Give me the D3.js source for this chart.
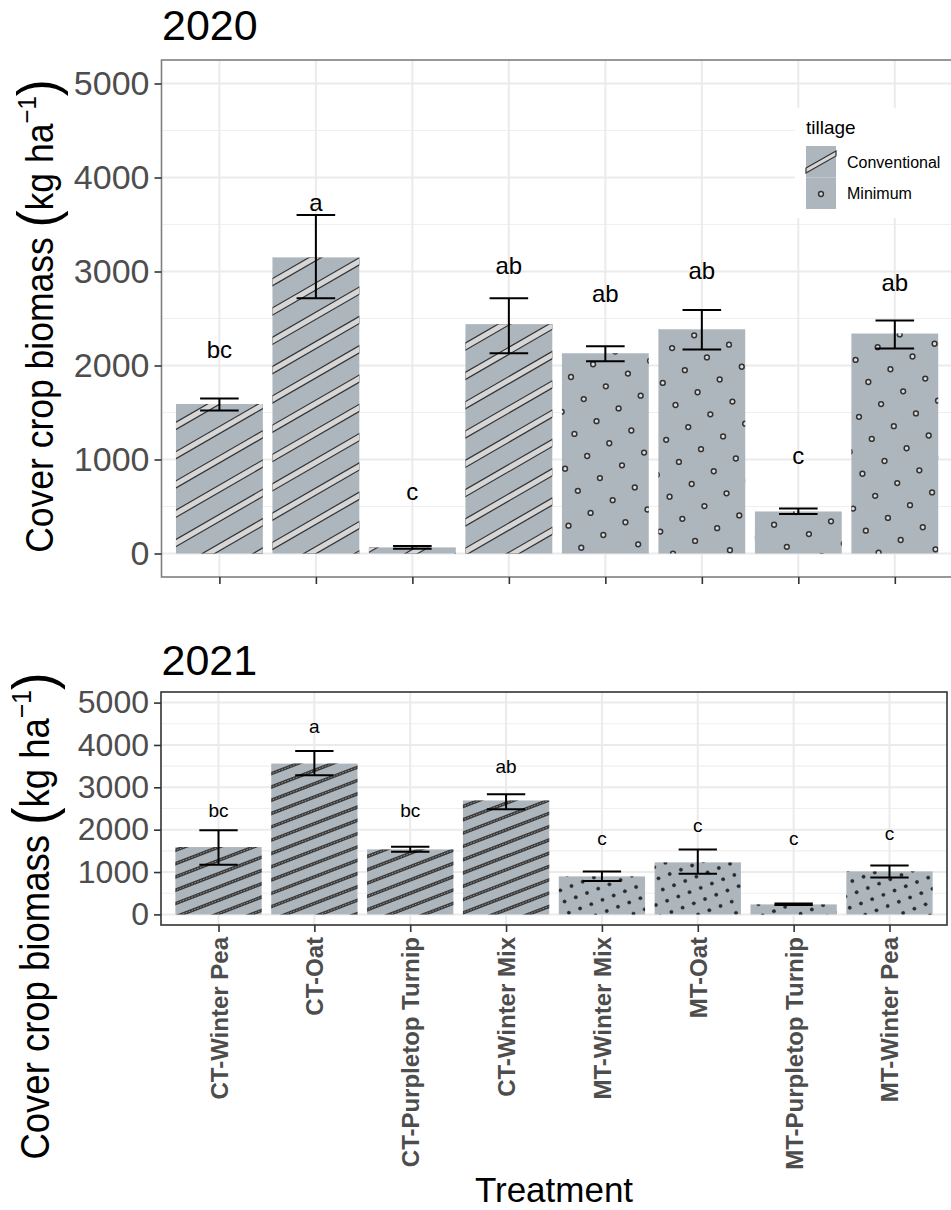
<!DOCTYPE html>
<html><head><meta charset="utf-8">
<script src="https://cdn.jsdelivr.net/npm/d3@7"></script>
<style>
body{margin:0;background:#fff}
svg{display:block}
text{font-family:"Liberation Sans",Arial,Helvetica,sans-serif}
</style>
</head><body>
<svg id="chart" width="951" height="1210"></svg>
<script>
// ---------- data ----------
const categories = ["CT-Winter Pea","CT-Oat","CT-Purpletop Turnip","CT-Winter Mix",
                    "MT-Winter Mix","MT-Oat","MT-Purpletop Turnip","MT-Winter Pea"];
const tillage = ["Conventional","Conventional","Conventional","Conventional",
                 "Minimum","Minimum","Minimum","Minimum"];
const yTicks = [0,1000,2000,3000,4000,5000];
const yMinor = [500,1500,2500,3500,4500];

const biomass2020 = [1590, 3150, 65, 2440, 2130, 2385, 447, 2340];
const lower2020   = [1520, 2715, 50, 2130, 2045, 2170, 420, 2180];
const upper2020   = [1650, 3600, 80, 2715, 2205, 2590, 480, 2480];
const letters2020 = ["bc","a","c","ab","ab","ab","c","ab"];
const letterPos2020 = [2080, 3644, 569, 2973, 2675, 2920, 952, 2793];

const biomass2021 = [1590, 3560, 1535, 2690, 897, 1228, 236, 1015];
const lower2021   = [1175, 3283, 1480, 2480, 787, 960, 220, 874];
const upper2021   = [1985, 3857, 1600, 2835, 1015, 1535, 255, 1157];
const letters2021 = ["bc","a","bc","ab","c","c","c","c"];
const letterPos2021 = [2300, 4284, 2300, 3340, 1639, 1946, 1639, 1757];

// ---------- drawing ----------
const svg = d3.select("#chart");
const defs = svg.append("defs");
const barFill = "#adb5bd";
let clipId = 0;

const texTop = {
  stripe:{angle:30, vsp:29.3, outer:{c:"#333",w:7.4}, inner:{c:"#d6d6d6",w:5}},
  dot:{angle:30, sp:25.5, r:2.4, fill:"#dcdcdc", stroke:"#333", sw:1.5}
};
const texBot = {
  stripe:{angle:21, vsp:13.3, outer:{c:"#3a3a3a",w:3.4}, inner:{c:"#9a9a9a",w:0.9,dash:"1.6,1.5"}},
  dot:{angle:21, sp:12, r:1.7, fill:"#2a2a2a", stroke:"#2a2a2a", sw:0.4}
};

function texture(g, bx, by, bw, bh, kind, tex){
  if(bh <= 0) return;
  const id = "clip" + (clipId++);
  defs.append("clipPath").attr("id",id).append("rect")
    .attr("x",bx).attr("y",by).attr("width",bw).attr("height",bh);
  const tg = g.append("g").attr("clip-path",`url(#${id})`);
  if(kind === "Conventional"){
    const s = tex.stripe, t = Math.tan(s.angle*Math.PI/180);
    const cMin = by + bx*t - 10, cMax = by + bh + (bx+bw)*t + 10;
    const segs = [];
    for(let c = Math.floor(cMin/s.vsp)*s.vsp; c <= cMax; c += s.vsp){
      const xa = bx - 10, xb = bx + bw + 10;
      segs.push({x1:xa, y1:c - xa*t, x2:xb, y2:c - xb*t});
    }
    tg.selectAll(".so").data(segs).join("line")
      .attr("x1",d=>d.x1).attr("y1",d=>d.y1).attr("x2",d=>d.x2).attr("y2",d=>d.y2)
      .attr("stroke",s.outer.c).attr("stroke-width",s.outer.w);
    tg.selectAll(".si").data(segs).join("line")
      .attr("x1",d=>d.x1).attr("y1",d=>d.y1).attr("x2",d=>d.x2).attr("y2",d=>d.y2)
      .attr("stroke",s.inner.c).attr("stroke-width",s.inner.w)
      .attr("stroke-dasharray",s.inner.dash || null);
  } else {
    const d = tex.dot, a = d.angle*Math.PI/180;
    const u = [d.sp*Math.cos(a), -d.sp*Math.sin(a)], v = [d.sp*Math.sin(a), d.sp*Math.cos(a)];
    const s2 = d.sp*d.sp;
    const corners = [[bx,by],[bx+bw,by],[bx,by+bh],[bx+bw,by+bh]];
    const is = corners.map(p=>(p[0]*u[0]+p[1]*u[1])/s2), js = corners.map(p=>(p[0]*v[0]+p[1]*v[1])/s2);
    const pts = [];
    for(let i=Math.floor(d3.min(is))-1;i<=Math.ceil(d3.max(is))+1;i++)
      for(let j=Math.floor(d3.min(js))-1;j<=Math.ceil(d3.max(js))+1;j++){
        const px = i*u[0] + j*v[0], py = i*u[1] + j*v[1];
        if(px > bx-5 && px < bx+bw+5 && py > by-5 && py < by+bh+5) pts.push([px,py]);
      }
    tg.selectAll("circle").data(pts).join("circle")
      .attr("cx",p=>p[0]).attr("cy",p=>p[1]).attr("r",d.r)
      .attr("fill",d.fill).attr("stroke",d.stroke).attr("stroke-width",d.sw);
  }
}

function panel(cfg){
  const g = svg.append("g");
  const step = (cfg.x1 - cfg.x0) / 8.2;
  const x = d3.scalePoint().domain(categories)
    .range([cfg.x0 + 0.6*step, cfg.x1 - 0.6*step]);
  const y = d3.scaleLinear().domain([-250, 5250]).range([cfg.y1, cfg.y0]);
  const bw = 0.9*step, ew = 0.4*step;

  g.append("rect").attr("x",cfg.x0).attr("y",cfg.y0).attr("width",cfg.x1-cfg.x0).attr("height",cfg.y1-cfg.y0)
    .attr("fill","#fff");
  g.selectAll(".gmin").data(yMinor).join("line")
    .attr("x1",cfg.x0).attr("x2",cfg.x1).attr("y1",d=>y(d)).attr("y2",d=>y(d))
    .attr("stroke","#efefef").attr("stroke-width",1.1);
  g.selectAll(".gmaj").data(yTicks).join("line")
    .attr("x1",cfg.x0).attr("x2",cfg.x1).attr("y1",d=>y(d)).attr("y2",d=>y(d))
    .attr("stroke","#ebebeb").attr("stroke-width",2);
  g.selectAll(".gx").data(categories).join("line")
    .attr("x1",d=>x(d)).attr("x2",d=>x(d)).attr("y1",cfg.y0).attr("y2",cfg.y1)
    .attr("stroke","#ebebeb").attr("stroke-width",2);

  const rows = categories.map((c,i)=>({c, t:tillage[i], v:cfg.vals[i], lo:cfg.lo[i], hi:cfg.hi[i],
                                       lab:cfg.letters[i], lp:cfg.letterPos[i]}));
  g.selectAll(".bar").data(rows).join("rect")
    .attr("x",d=>x(d.c)-bw/2).attr("width",bw)
    .attr("y",d=>y(d.v)).attr("height",d=>y(0)-y(d.v))
    .attr("fill",barFill);
  rows.forEach(d=>{
    texture(g, x(d.c)-bw/2, y(d.v), bw, y(0)-y(d.v), d.t, cfg.tex);
  });

  const eb = g.selectAll(".eb").data(rows).join("g");
  eb.append("line").attr("x1",d=>x(d.c)).attr("x2",d=>x(d.c)).attr("y1",d=>y(d.lo)).attr("y2",d=>y(d.hi))
    .attr("stroke","#000").attr("stroke-width",2);
  eb.append("line").attr("x1",d=>x(d.c)-ew/2).attr("x2",d=>x(d.c)+ew/2).attr("y1",d=>y(d.lo)).attr("y2",d=>y(d.lo))
    .attr("stroke","#000").attr("stroke-width",2);
  eb.append("line").attr("x1",d=>x(d.c)-ew/2).attr("x2",d=>x(d.c)+ew/2).attr("y1",d=>y(d.hi)).attr("y2",d=>y(d.hi))
    .attr("stroke","#000").attr("stroke-width",2);

  g.selectAll(".lt").data(rows).join("text")
    .attr("x",d=>x(d.c)).attr("y",d=>y(d.lp)).attr("text-anchor","middle")
    .attr("font-size",cfg.letterSize).attr("fill","#000").text(d=>d.lab);

  g.append("rect").attr("x",cfg.x0).attr("y",cfg.y0).attr("width",cfg.x1-cfg.x0).attr("height",cfg.y1-cfg.y0)
    .attr("fill","none").attr("stroke",cfg.border).attr("stroke-width",1.6);

  const ya = g.append("g").attr("transform",`translate(${cfg.x0},0)`)
    .call(d3.axisLeft(y).tickValues(yTicks).tickSize(7).tickPadding(5).tickFormat(d3.format("d")));
  ya.select(".domain").remove();
  ya.selectAll(".tick line").attr("stroke","#333").attr("stroke-width",1.6);
  ya.selectAll(".tick text").attr("font-size",cfg.tickSize).attr("fill","#4d4d4d")
    .attr("font-family",'"Liberation Sans",Arial,sans-serif');

  const xa = g.append("g").attr("transform",`translate(0,${cfg.y1})`)
    .call(d3.axisBottom(x).tickSize(7).tickPadding(5));
  xa.select(".domain").remove();
  xa.selectAll(".tick line").attr("stroke","#333").attr("stroke-width",1.6);
  if(cfg.xLabels){
    xa.selectAll(".tick text").attr("font-size",24).attr("font-weight","bold").attr("fill","#4d4d4d")
      .attr("font-family",'"Liberation Sans",Arial,sans-serif')
      .attr("text-anchor","end").attr("dy",null).attr("y",0).attr("x",0)
      .attr("dominant-baseline","central")
      .attr("transform","translate(0,12) rotate(-90)");
  } else {
    xa.selectAll(".tick text").remove();
  }

  svg.append("text").attr("x",cfg.x0+0.5).attr("y",cfg.titleY).attr("font-size",43).attr("fill","#000").text(cfg.title);

  const yt = svg.append("text").attr("transform",`translate(${cfg.ytX},${cfg.ytY}) rotate(-90) scale(1,1.1)`)
    .attr("text-anchor","middle").attr("font-size",cfg.ytSize).attr("fill","#000");
  const f = cfg.ytSize/34;
  yt.append("tspan").text("Cover crop biomass ");
  yt.append("tspan").attr("font-size",49*f).attr("dy",3*f).text("(");
  yt.append("tspan").attr("dy",-3*f).text("kg ha");
  yt.append("tspan").attr("font-size",23*f).attr("dy",-15*f).text("\u22121");
  yt.append("tspan").attr("font-size",49*f).attr("dy",18*f).text(")");
  return {x,y};
}

panel({x0:161.5, x1:952.7, y0:60, y1:577, vals:biomass2020, lo:lower2020, hi:upper2020,
       letters:letters2020, letterPos:letterPos2020, letterSize:24, tickSize:34,
       tex:texTop, border:"#7f7f7f", xLabels:false,
       title:"2020", titleY:40, ytX:53, ytY:316, ytSize:35.5});
panel({x0:161, x1:947, y0:692, y1:925, vals:biomass2021, lo:lower2021, hi:upper2021,
       letters:letters2021, letterPos:letterPos2021, letterSize:19, tickSize:32,
       tex:texBot, border:"#333", xLabels:true,
       title:"2021", titleY:675, ytX:49, ytY:916, ytSize:36.5});

svg.append("text").attr("x",554).attr("y",1202).attr("text-anchor","middle").attr("font-size",35)
  .attr("fill","#000").text("Treatment");

const lg = svg.append("g");
lg.append("rect").attr("x",795).attr("y",108).attr("width",156).attr("height",110).attr("fill","#fff");
lg.append("text").attr("x",806).attr("y",134).attr("font-size",19).attr("fill","#000").text("tillage");
const keys = ["Conventional","Minimum"];
keys.forEach((k,i)=>{
  const ky = 146 + i*31.5;
  lg.append("rect").attr("x",806).attr("y",ky).attr("width",30).attr("height",31.5).attr("fill",barFill);
  if(k==="Conventional"){
    lg.append("polygon").attr("points",`806,${ky+22} 836,${ky+5} 836,${ky+10} 806,${ky+27}`)
      .attr("fill","#d6d6d6").attr("stroke","#333").attr("stroke-width",1.2);
  } else {
    lg.append("circle").attr("cx",821).attr("cy",ky+16.5).attr("r",2.4)
      .attr("fill","#dcdcdc").attr("stroke","#333").attr("stroke-width",1.5);
  }
  lg.append("text").attr("x",847).attr("y",ky+21.5).attr("font-size",16).attr("fill","#000").text(k);
});
</script>
</body></html>
